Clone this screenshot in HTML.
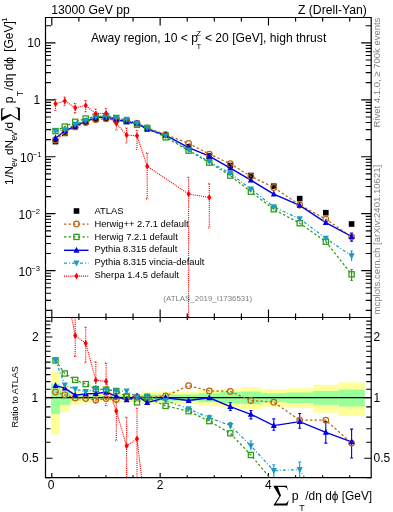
<!DOCTYPE html>
<html><head><meta charset="utf-8"><style>
html,body{margin:0;padding:0;background:#fff;}
svg{display:block;will-change:transform;}
</style></head><body>
<svg width="393" height="512" viewBox="0 0 393 512">
<rect x="51.1" y="371.75" width="8.80" height="62.71" fill="#ffff99"/>
<rect x="59.9" y="385.38" width="10.20" height="26.43" fill="#ffff99"/>
<rect x="70.1" y="391.11" width="10.80" height="13.49" fill="#ffff99"/>
<rect x="80.9" y="392.75" width="9.70" height="9.98" fill="#ffff99"/>
<rect x="90.6" y="393.33" width="10.40" height="8.75" fill="#ffff99"/>
<rect x="101.0" y="393.33" width="10.20" height="8.75" fill="#ffff99"/>
<rect x="111.2" y="393.33" width="10.20" height="8.75" fill="#ffff99"/>
<rect x="121.4" y="393.33" width="10.40" height="8.75" fill="#ffff99"/>
<rect x="131.8" y="393.42" width="10.20" height="8.57" fill="#ffff99"/>
<rect x="142.0" y="391.93" width="10.50" height="11.73" fill="#ffff99"/>
<rect x="152.5" y="391.44" width="26.20" height="12.79" fill="#ffff99"/>
<rect x="178.7" y="391.44" width="19.80" height="12.79" fill="#ffff99"/>
<rect x="198.5" y="390.07" width="21.60" height="15.77" fill="#ffff99"/>
<rect x="220.1" y="388.95" width="20.40" height="18.25" fill="#ffff99"/>
<rect x="240.5" y="387.23" width="20.80" height="22.14" fill="#ffff99"/>
<rect x="261.3" y="389.27" width="25.00" height="17.54" fill="#ffff99"/>
<rect x="286.3" y="388.24" width="26.80" height="19.84" fill="#ffff99"/>
<rect x="313.1" y="384.78" width="25.40" height="27.85" fill="#ffff99"/>
<rect x="338.5" y="382.39" width="26.20" height="33.63" fill="#ffff99"/>
<rect x="51.1" y="383.72" width="8.80" height="30.38" fill="#99ff99"/>
<rect x="59.9" y="390.87" width="10.20" height="14.02" fill="#99ff99"/>
<rect x="70.1" y="394.59" width="10.80" height="6.12" fill="#99ff99"/>
<rect x="80.9" y="395.44" width="9.70" height="4.37" fill="#99ff99"/>
<rect x="90.6" y="395.7" width="10.40" height="3.84" fill="#99ff99"/>
<rect x="101.0" y="395.7" width="10.20" height="3.84" fill="#99ff99"/>
<rect x="111.2" y="395.7" width="10.20" height="3.84" fill="#99ff99"/>
<rect x="121.4" y="395.7" width="10.40" height="3.84" fill="#99ff99"/>
<rect x="131.8" y="395.44" width="10.20" height="4.37" fill="#99ff99"/>
<rect x="142.0" y="394.68" width="10.50" height="5.94" fill="#99ff99"/>
<rect x="152.5" y="394.42" width="26.20" height="6.48" fill="#99ff99"/>
<rect x="178.7" y="394.42" width="19.80" height="6.48" fill="#99ff99"/>
<rect x="198.5" y="393.33" width="21.60" height="8.75" fill="#99ff99"/>
<rect x="220.1" y="392.01" width="20.40" height="11.56" fill="#99ff99"/>
<rect x="240.5" y="391.52" width="20.80" height="12.61" fill="#99ff99"/>
<rect x="261.3" y="393.17" width="25.00" height="9.10" fill="#99ff99"/>
<rect x="286.3" y="392.51" width="26.80" height="10.50" fill="#99ff99"/>
<rect x="313.1" y="390.95" width="25.40" height="13.84" fill="#99ff99"/>
<rect x="338.5" y="389.51" width="26.20" height="17.01" fill="#99ff99"/>
<path d="M45.5,397.60H371.2" stroke="#000" stroke-width="1.1"/>
<path d="M51.80,17.5v8M51.80,317.5v-8M51.80,317.5v4.7M51.80,477.7v-4.7M78.88,17.5v4M78.88,317.5v-4M78.88,317.5v2.5M78.88,477.7v-2.5M105.97,17.5v4M105.97,317.5v-4M105.97,317.5v2.5M105.97,477.7v-2.5M133.06,17.5v4M133.06,317.5v-4M133.06,317.5v2.5M133.06,477.7v-2.5M160.14,17.5v8M160.14,317.5v-8M160.14,317.5v4.7M160.14,477.7v-4.7M187.23,17.5v4M187.23,317.5v-4M187.23,317.5v2.5M187.23,477.7v-2.5M214.31,17.5v4M214.31,317.5v-4M214.31,317.5v2.5M214.31,477.7v-2.5M241.39,17.5v4M241.39,317.5v-4M241.39,317.5v2.5M241.39,477.7v-2.5M268.48,17.5v8M268.48,317.5v-8M268.48,317.5v4.7M268.48,477.7v-4.7M295.56,17.5v4M295.56,317.5v-4M295.56,317.5v2.5M295.56,477.7v-2.5M322.65,17.5v4M322.65,317.5v-4M322.65,317.5v2.5M322.65,477.7v-2.5M349.74,17.5v4M349.74,317.5v-4M349.74,317.5v2.5M349.74,477.7v-2.5M45.5,310.43h5.5M371.2,310.43h-5.5M45.5,300.40h5.5M371.2,300.40h-5.5M45.5,293.29h5.5M371.2,293.29h-5.5M45.5,287.77h5.5M371.2,287.77h-5.5M45.5,283.26h5.5M371.2,283.26h-5.5M45.5,279.45h5.5M371.2,279.45h-5.5M45.5,276.15h5.5M371.2,276.15h-5.5M45.5,273.24h5.5M371.2,273.24h-5.5M45.5,270.63h10M371.2,270.63h-10M45.5,253.49h5.5M371.2,253.49h-5.5M45.5,243.46h5.5M371.2,243.46h-5.5M45.5,236.35h5.5M371.2,236.35h-5.5M45.5,230.83h5.5M371.2,230.83h-5.5M45.5,226.32h5.5M371.2,226.32h-5.5M45.5,222.51h5.5M371.2,222.51h-5.5M45.5,219.21h5.5M371.2,219.21h-5.5M45.5,216.30h5.5M371.2,216.30h-5.5M45.5,213.69h10M371.2,213.69h-10M45.5,196.55h5.5M371.2,196.55h-5.5M45.5,186.52h5.5M371.2,186.52h-5.5M45.5,179.41h5.5M371.2,179.41h-5.5M45.5,173.89h5.5M371.2,173.89h-5.5M45.5,169.38h5.5M371.2,169.38h-5.5M45.5,165.57h5.5M371.2,165.57h-5.5M45.5,162.27h5.5M371.2,162.27h-5.5M45.5,159.36h5.5M371.2,159.36h-5.5M45.5,156.75h10M371.2,156.75h-10M45.5,139.61h5.5M371.2,139.61h-5.5M45.5,129.58h5.5M371.2,129.58h-5.5M45.5,122.47h5.5M371.2,122.47h-5.5M45.5,116.95h5.5M371.2,116.95h-5.5M45.5,112.44h5.5M371.2,112.44h-5.5M45.5,108.63h5.5M371.2,108.63h-5.5M45.5,105.33h5.5M371.2,105.33h-5.5M45.5,102.42h5.5M371.2,102.42h-5.5M45.5,99.81h10M371.2,99.81h-10M45.5,82.67h5.5M371.2,82.67h-5.5M45.5,72.64h5.5M371.2,72.64h-5.5M45.5,65.53h5.5M371.2,65.53h-5.5M45.5,60.01h5.5M371.2,60.01h-5.5M45.5,55.50h5.5M371.2,55.50h-5.5M45.5,51.69h5.5M371.2,51.69h-5.5M45.5,48.39h5.5M371.2,48.39h-5.5M45.5,45.48h5.5M371.2,45.48h-5.5M45.5,42.87h10M371.2,42.87h-10M45.5,25.73h5.5M371.2,25.73h-5.5M45.5,477.71h5M371.2,477.71h-5M45.5,458.20h7M371.2,458.20h-7M45.5,442.26h5M371.2,442.26h-5M45.5,428.78h5M371.2,428.78h-5M45.5,417.11h5M371.2,417.11h-5M45.5,406.81h5M371.2,406.81h-5M45.5,397.60h7M371.2,397.60h-7M45.5,389.27h5M371.2,389.27h-5M45.5,381.66h5M371.2,381.66h-5M45.5,374.66h5M371.2,374.66h-5M45.5,368.18h5M371.2,368.18h-5M45.5,362.15h5M371.2,362.15h-5M45.5,356.51h5M371.2,356.51h-5M45.5,351.21h5M371.2,351.21h-5M45.5,346.21h5M371.2,346.21h-5M45.5,341.49h5M371.2,341.49h-5M45.5,337.00h7M371.2,337.00h-7M45.5,332.74h5M371.2,332.74h-5M45.5,328.67h5M371.2,328.67h-5M45.5,324.78h5M371.2,324.78h-5M45.5,321.06h5M371.2,321.06h-5M45.5,317.49h5M371.2,317.49h-5" stroke="#000" stroke-width="1.15" fill="none"/>
<defs><clipPath id="cu"><rect x="45.5" y="17.5" width="325.7" height="300"/></clipPath><clipPath id="cr"><rect x="45.5" y="317.5" width="325.7" height="160.2"/></clipPath></defs>
<g clip-path="url(#cu)">
<rect x="52.70" y="138.80" width="5.6" height="5.6" fill="#000"/>
<rect x="62.00" y="130.60" width="5.6" height="5.6" fill="#000"/>
<rect x="72.40" y="124.00" width="5.6" height="5.6" fill="#000"/>
<rect x="82.90" y="119.50" width="5.6" height="5.6" fill="#000"/>
<rect x="93.00" y="116.20" width="5.6" height="5.6" fill="#000"/>
<rect x="103.30" y="115.70" width="5.6" height="5.6" fill="#000"/>
<rect x="113.50" y="117.00" width="5.6" height="5.6" fill="#000"/>
<rect x="123.80" y="118.50" width="5.6" height="5.6" fill="#000"/>
<rect x="134.20" y="120.70" width="5.6" height="5.6" fill="#000"/>
<rect x="144.40" y="125.20" width="5.6" height="5.6" fill="#000"/>
<rect x="162.80" y="132.20" width="5.6" height="5.6" fill="#000"/>
<rect x="185.80" y="144.00" width="5.6" height="5.6" fill="#000"/>
<rect x="206.50" y="153.20" width="5.6" height="5.6" fill="#000"/>
<rect x="227.50" y="162.70" width="5.6" height="5.6" fill="#000"/>
<rect x="248.10" y="172.70" width="5.6" height="5.6" fill="#000"/>
<rect x="271.00" y="183.40" width="5.6" height="5.6" fill="#000"/>
<rect x="296.90" y="195.80" width="5.6" height="5.6" fill="#000"/>
<rect x="323.00" y="209.90" width="5.6" height="5.6" fill="#000"/>
<rect x="348.80" y="221.20" width="5.6" height="5.6" fill="#000"/>
<polyline points="55.50,140.02 64.80,132.61 75.20,126.91 85.70,122.55 95.80,119.65 106.10,118.78 116.30,120.34 126.60,120.85 137.00,123.33 147.20,127.89 165.60,134.55 188.60,143.43 209.30,154.10 230.30,163.75 250.90,176.32 273.80,187.50 299.70,204.99 325.80,219.09 351.60,236.87" fill="none" stroke="#bb6418" stroke-width="1.25" stroke-dasharray="2.4,2.2"/>
<polyline points="55.50,131.08 64.80,126.58 75.20,121.79 85.70,118.48 95.80,116.60 106.10,116.27 116.30,117.93 126.60,121.05 137.00,124.86 147.20,127.97 165.60,137.35 188.60,150.65 209.30,162.65 230.30,175.60 250.90,191.74 273.80,209.30 299.70,223.20 325.80,241.70 351.60,274.30" fill="none" stroke="#2f9a14" stroke-width="1.25" stroke-dasharray="2.4,2.2"/>
<polyline points="55.50,138.21 64.80,130.74 75.20,126.12 85.70,121.25 95.80,117.84 106.10,117.00 116.30,119.38 126.60,121.95 137.00,123.05 147.20,129.41 165.60,135.03 188.60,147.62 209.30,156.06 230.30,168.05 250.90,180.22 273.80,194.12 299.70,205.39 325.80,222.54 351.60,236.50" fill="none" stroke="#0000e6" stroke-width="1.4"/>
<polyline points="55.50,131.08 64.80,129.84 75.20,124.42 85.70,120.63 95.80,116.60 106.10,116.27 116.30,117.93 126.60,119.43 137.00,123.39 147.20,127.58 165.60,135.82 188.60,150.00 209.30,161.71 230.30,173.42 250.90,189.13 273.80,206.88 299.70,218.97 325.80,238.30 351.60,255.80" fill="none" stroke="#1a9bc4" stroke-width="1.25" stroke-dasharray="3,2,1,2"/>
<polyline points="55.5,103.8 64.8,100.9 75.2,107.8 85.7,105.5 95.8,113.7 106.1,113.3 116.3,123.4 126.6,135.1 137.0,135.8 147.2,166.3 188.6,194.0 209.3,197.5" fill="none" stroke="#ff0000" stroke-width="1.1" stroke-dasharray="1.1,1"/>
<path d="M55.5,99.4V110.5M54.3,99.4h2.4M54.3,110.5h2.4M64.8,97.0V105.8M63.599999999999994,97.0h2.4M63.599999999999994,105.8h2.4M75.2,103.5V112.9M74.0,103.5h2.4M74.0,112.9h2.4M85.7,100.5V111.7M84.5,100.5h2.4M84.5,111.7h2.4M95.8,109V119M94.6,109h2.4M94.6,119h2.4M106.1,108.5V119M104.89999999999999,108.5h2.4M104.89999999999999,119h2.4M116.3,117V130M115.1,117h2.4M115.1,130h2.4M126.6,128V143M125.39999999999999,128h2.4M125.39999999999999,143h2.4M137.0,130.2V149.3M135.8,130.2h2.4M135.8,149.3h2.4M147.2,153.1V198.9M146.0,153.1h2.4M146.0,198.9h2.4M188.6,177.2V317.5M187.4,177.2h2.4M187.4,317.5h2.4M209.3,183.8V228.0M208.10000000000002,183.8h2.4M208.10000000000002,228.0h2.4" fill="none" stroke="#ff0000" stroke-width="1.1" stroke-dasharray="1.1,1"/>
<path d="M351.6,233.1V241.2M350.1,233.1h3M350.1,241.2h3" stroke="#0000e6" stroke-width="1.2"/>
<path d="M351.6,251V261M350.4,251h2.4" stroke="#1a9bc4" stroke-width="1.2"/>
<path d="M351.6,269.5V280.5M350.4,269.5h2.4M350.4,280.5h2.4" stroke="#2f9a14" stroke-width="1.2"/>
<circle cx="55.50" cy="140.02" r="2.8" fill="none" stroke="#bb6418" stroke-width="1.2"/>
<rect x="52.90" y="128.48" width="5.2" height="5.2" fill="none" stroke="#2f9a14" stroke-width="1.25"/>
<path d="M55.50,134.61L58.50,140.61H52.50Z" fill="#0000e6"/>
<path d="M55.50,134.68L58.60,128.48H52.40Z" fill="#1a9bc4"/>
<circle cx="64.80" cy="132.61" r="2.8" fill="none" stroke="#bb6418" stroke-width="1.2"/>
<rect x="62.20" y="123.98" width="5.2" height="5.2" fill="none" stroke="#2f9a14" stroke-width="1.25"/>
<path d="M64.80,127.14L67.80,133.14H61.80Z" fill="#0000e6"/>
<path d="M64.80,133.44L67.90,127.24H61.70Z" fill="#1a9bc4"/>
<circle cx="75.20" cy="126.91" r="2.8" fill="none" stroke="#bb6418" stroke-width="1.2"/>
<rect x="72.60" y="119.19" width="5.2" height="5.2" fill="none" stroke="#2f9a14" stroke-width="1.25"/>
<path d="M75.20,122.52L78.20,128.52H72.20Z" fill="#0000e6"/>
<path d="M75.20,128.02L78.30,121.82H72.10Z" fill="#1a9bc4"/>
<circle cx="85.70" cy="122.55" r="2.8" fill="none" stroke="#bb6418" stroke-width="1.2"/>
<rect x="83.10" y="115.88" width="5.2" height="5.2" fill="none" stroke="#2f9a14" stroke-width="1.25"/>
<path d="M85.70,117.65L88.70,123.65H82.70Z" fill="#0000e6"/>
<path d="M85.70,124.23L88.80,118.03H82.60Z" fill="#1a9bc4"/>
<circle cx="95.80" cy="119.65" r="2.8" fill="none" stroke="#bb6418" stroke-width="1.2"/>
<rect x="93.20" y="114.00" width="5.2" height="5.2" fill="none" stroke="#2f9a14" stroke-width="1.25"/>
<path d="M95.80,114.24L98.80,120.24H92.80Z" fill="#0000e6"/>
<path d="M95.80,120.20L98.90,114.00H92.70Z" fill="#1a9bc4"/>
<circle cx="106.10" cy="118.78" r="2.8" fill="none" stroke="#bb6418" stroke-width="1.2"/>
<rect x="103.50" y="113.67" width="5.2" height="5.2" fill="none" stroke="#2f9a14" stroke-width="1.25"/>
<path d="M106.10,113.40L109.10,119.40H103.10Z" fill="#0000e6"/>
<path d="M106.10,119.87L109.20,113.67H103.00Z" fill="#1a9bc4"/>
<circle cx="116.30" cy="120.34" r="2.8" fill="none" stroke="#bb6418" stroke-width="1.2"/>
<rect x="113.70" y="115.33" width="5.2" height="5.2" fill="none" stroke="#2f9a14" stroke-width="1.25"/>
<path d="M116.30,115.78L119.30,121.78H113.30Z" fill="#0000e6"/>
<path d="M116.30,121.53L119.40,115.33H113.20Z" fill="#1a9bc4"/>
<circle cx="126.60" cy="120.85" r="2.8" fill="none" stroke="#bb6418" stroke-width="1.2"/>
<rect x="124.00" y="118.45" width="5.2" height="5.2" fill="none" stroke="#2f9a14" stroke-width="1.25"/>
<path d="M126.60,118.35L129.60,124.35H123.60Z" fill="#0000e6"/>
<path d="M126.60,123.03L129.70,116.83H123.50Z" fill="#1a9bc4"/>
<circle cx="137.00" cy="123.33" r="2.8" fill="none" stroke="#bb6418" stroke-width="1.2"/>
<rect x="134.40" y="122.26" width="5.2" height="5.2" fill="none" stroke="#2f9a14" stroke-width="1.25"/>
<path d="M137.00,119.45L140.00,125.45H134.00Z" fill="#0000e6"/>
<path d="M137.00,126.99L140.10,120.79H133.90Z" fill="#1a9bc4"/>
<circle cx="147.20" cy="127.89" r="2.8" fill="none" stroke="#bb6418" stroke-width="1.2"/>
<rect x="144.60" y="125.37" width="5.2" height="5.2" fill="none" stroke="#2f9a14" stroke-width="1.25"/>
<path d="M147.20,125.81L150.20,131.81H144.20Z" fill="#0000e6"/>
<path d="M147.20,131.18L150.30,124.98H144.10Z" fill="#1a9bc4"/>
<circle cx="165.60" cy="134.55" r="2.8" fill="none" stroke="#bb6418" stroke-width="1.2"/>
<rect x="163.00" y="134.75" width="5.2" height="5.2" fill="none" stroke="#2f9a14" stroke-width="1.25"/>
<path d="M165.60,131.43L168.60,137.43H162.60Z" fill="#0000e6"/>
<path d="M165.60,139.42L168.70,133.22H162.50Z" fill="#1a9bc4"/>
<circle cx="188.60" cy="143.43" r="2.8" fill="none" stroke="#bb6418" stroke-width="1.2"/>
<rect x="186.00" y="148.05" width="5.2" height="5.2" fill="none" stroke="#2f9a14" stroke-width="1.25"/>
<path d="M188.60,144.02L191.60,150.02H185.60Z" fill="#0000e6"/>
<path d="M188.60,153.60L191.70,147.40H185.50Z" fill="#1a9bc4"/>
<circle cx="209.30" cy="154.10" r="2.8" fill="none" stroke="#bb6418" stroke-width="1.2"/>
<rect x="206.70" y="160.05" width="5.2" height="5.2" fill="none" stroke="#2f9a14" stroke-width="1.25"/>
<path d="M209.30,152.46L212.30,158.46H206.30Z" fill="#0000e6"/>
<path d="M209.30,165.31L212.40,159.11H206.20Z" fill="#1a9bc4"/>
<circle cx="230.30" cy="163.75" r="2.8" fill="none" stroke="#bb6418" stroke-width="1.2"/>
<rect x="227.70" y="173.00" width="5.2" height="5.2" fill="none" stroke="#2f9a14" stroke-width="1.25"/>
<path d="M230.30,164.45L233.30,170.45H227.30Z" fill="#0000e6"/>
<path d="M230.30,177.02L233.40,170.82H227.20Z" fill="#1a9bc4"/>
<circle cx="250.90" cy="176.32" r="2.8" fill="none" stroke="#bb6418" stroke-width="1.2"/>
<rect x="248.30" y="189.14" width="5.2" height="5.2" fill="none" stroke="#2f9a14" stroke-width="1.25"/>
<path d="M250.90,176.62L253.90,182.62H247.90Z" fill="#0000e6"/>
<path d="M250.90,192.73L254.00,186.53H247.80Z" fill="#1a9bc4"/>
<circle cx="273.80" cy="187.50" r="2.8" fill="none" stroke="#bb6418" stroke-width="1.2"/>
<rect x="271.20" y="206.70" width="5.2" height="5.2" fill="none" stroke="#2f9a14" stroke-width="1.25"/>
<path d="M273.80,190.52L276.80,196.52H270.80Z" fill="#0000e6"/>
<path d="M273.80,210.48L276.90,204.28H270.70Z" fill="#1a9bc4"/>
<circle cx="299.70" cy="204.99" r="2.8" fill="none" stroke="#bb6418" stroke-width="1.2"/>
<rect x="297.10" y="220.60" width="5.2" height="5.2" fill="none" stroke="#2f9a14" stroke-width="1.25"/>
<path d="M299.70,201.79L302.70,207.79H296.70Z" fill="#0000e6"/>
<path d="M299.70,222.57L302.80,216.37H296.60Z" fill="#1a9bc4"/>
<circle cx="325.80" cy="219.09" r="2.8" fill="none" stroke="#bb6418" stroke-width="1.2"/>
<rect x="323.20" y="239.10" width="5.2" height="5.2" fill="none" stroke="#2f9a14" stroke-width="1.25"/>
<path d="M325.80,218.94L328.80,224.94H322.80Z" fill="#0000e6"/>
<path d="M325.80,241.90L328.90,235.70H322.70Z" fill="#1a9bc4"/>
<circle cx="351.60" cy="236.87" r="2.8" fill="none" stroke="#bb6418" stroke-width="1.2"/>
<rect x="349.00" y="271.70" width="5.2" height="5.2" fill="none" stroke="#2f9a14" stroke-width="1.25"/>
<path d="M351.60,232.90L354.60,238.90H348.60Z" fill="#0000e6"/>
<path d="M351.60,259.40L354.70,253.20H348.50Z" fill="#1a9bc4"/>
<path d="M55.50,100.50L57.60,103.80L55.50,107.10L53.40,103.80Z" fill="#ff0000"/>
<path d="M64.80,97.60L66.90,100.90L64.80,104.20L62.70,100.90Z" fill="#ff0000"/>
<path d="M75.20,104.50L77.30,107.80L75.20,111.10L73.10,107.80Z" fill="#ff0000"/>
<path d="M85.70,102.20L87.80,105.50L85.70,108.80L83.60,105.50Z" fill="#ff0000"/>
<path d="M95.80,110.40L97.90,113.70L95.80,117.00L93.70,113.70Z" fill="#ff0000"/>
<path d="M106.10,110.00L108.20,113.30L106.10,116.60L104.00,113.30Z" fill="#ff0000"/>
<path d="M116.30,120.10L118.40,123.40L116.30,126.70L114.20,123.40Z" fill="#ff0000"/>
<path d="M126.60,131.80L128.70,135.10L126.60,138.40L124.50,135.10Z" fill="#ff0000"/>
<path d="M137.00,132.50L139.10,135.80L137.00,139.10L134.90,135.80Z" fill="#ff0000"/>
<path d="M147.20,163.00L149.30,166.30L147.20,169.60L145.10,166.30Z" fill="#ff0000"/>
<path d="M188.60,190.70L190.70,194.00L188.60,197.30L186.50,194.00Z" fill="#ff0000"/>
<path d="M209.30,194.20L211.40,197.50L209.30,200.80L207.20,197.50Z" fill="#ff0000"/>
</g>
<g clip-path="url(#cr)">
<polyline points="55.50,392.00 64.80,394.80 75.20,398.00 85.70,398.50 95.80,399.90 106.10,398.60 116.30,399.50 126.60,396.00 137.00,397.00 147.20,397.20 165.60,396.00 188.60,385.70 209.30,390.90 230.30,391.40 250.90,400.50 273.80,402.20 299.70,420.20 325.80,420.20 351.60,443.10" fill="none" stroke="#bb6418" stroke-width="1.25" stroke-dasharray="2.4,2.2"/>
<polyline points="55.50,360.40 64.80,373.50 75.20,379.90 85.70,384.10 95.80,389.10 106.10,389.70 116.30,391.00 126.60,396.70 137.00,402.40 147.20,397.50 165.60,405.90 188.60,411.20 209.30,421.10 230.30,433.30 250.90,455.00 272.30,480.70" fill="none" stroke="#2f9a14" stroke-width="1.25" stroke-dasharray="2.4,2.2"/>
<polyline points="55.50,385.60 64.80,388.20 75.20,395.20 85.70,393.90 95.80,393.50 106.10,392.30 116.30,396.10 126.60,399.90 137.00,396.00 147.20,402.60 165.60,397.70 188.60,400.50 209.30,397.80 230.30,406.60 250.90,414.30 273.80,425.60 299.70,421.60 325.80,432.40 351.60,441.80" fill="none" stroke="#0000e6" stroke-width="1.4"/>
<polyline points="55.50,360.40 64.80,385.00 75.20,389.20 85.70,391.70 95.80,389.10 106.10,389.70 116.30,391.00 126.60,391.00 137.00,397.20 147.20,396.10 165.60,400.50 188.60,408.90 209.30,417.80 230.30,425.60 250.90,445.80 273.80,470.70 299.70,469.60 312.00,490.00" fill="none" stroke="#1a9bc4" stroke-width="1.25" stroke-dasharray="3,2,1,2"/>
<polyline points="64.80,283.20 75.20,335.60 85.70,343.20 95.80,380.30 106.10,381.40 116.30,411.10 126.60,445.90 137.00,438.80 141.70,478.00" fill="none" stroke="#ff0000" stroke-width="1.1" stroke-dasharray="1.1,1"/>
<path d="M75.2,317.5V356.4M74.0,317.5h2.4M74.0,356.4h2.4M85.7,327.2V362.8M84.5,327.2h2.4M84.5,362.8h2.4M95.8,361.9V403.3M94.6,361.9h2.4M94.6,403.3h2.4M106.1,363.1V405.6M104.89999999999999,363.1h2.4M104.89999999999999,405.6h2.4M116.3,399.1V440.8M115.1,399.1h2.4M115.1,440.8h2.4M126.6,417.4V477.7M125.39999999999999,417.4h2.4M125.39999999999999,477.7h2.4M137.0,408.2V477.7M135.8,408.2h2.4M135.8,477.7h2.4" fill="none" stroke="#ff0000" stroke-width="1.1" stroke-dasharray="1.1,1"/>
<path d="M230.3,402.8V410.5M228.8,402.8h3M228.8,410.5h3M250.9,410.5V418.9M249.4,410.5h3M249.4,418.9h3M273.8,418.9V430.2M272.3,418.9h3M272.3,430.2h3M299.7,413.5V428.3M298.2,413.5h3M298.2,428.3h3M325.8,421.6V443.1M324.3,421.6h3M324.3,443.1h3M351.6,429.1V458.0M350.1,429.1h3M350.1,458.0h3" stroke="#0000e6" stroke-width="1.1" fill="none"/>
<path d="M209.3,415.2V420.5M207.8,415.2h3M230.3,422.5V428.8M228.8,422.5h3M250.9,441V450.5M249.4,441h3M273.8,464.7V476.9M272.3,464.7h3M299.7,462V477M298.2,462h3" stroke="#1a9bc4" stroke-width="1.1" fill="none"/>
<circle cx="55.50" cy="392.00" r="2.8" fill="none" stroke="#bb6418" stroke-width="1.2"/>
<rect x="52.90" y="357.80" width="5.2" height="5.2" fill="none" stroke="#2f9a14" stroke-width="1.25"/>
<path d="M55.50,382.00L58.50,388.00H52.50Z" fill="#0000e6"/>
<path d="M55.50,364.00L58.60,357.80H52.40Z" fill="#1a9bc4"/>
<circle cx="64.80" cy="394.80" r="2.8" fill="none" stroke="#bb6418" stroke-width="1.2"/>
<rect x="62.20" y="370.90" width="5.2" height="5.2" fill="none" stroke="#2f9a14" stroke-width="1.25"/>
<path d="M64.80,384.60L67.80,390.60H61.80Z" fill="#0000e6"/>
<path d="M64.80,388.60L67.90,382.40H61.70Z" fill="#1a9bc4"/>
<circle cx="75.20" cy="398.00" r="2.8" fill="none" stroke="#bb6418" stroke-width="1.2"/>
<rect x="72.60" y="377.30" width="5.2" height="5.2" fill="none" stroke="#2f9a14" stroke-width="1.25"/>
<path d="M75.20,391.60L78.20,397.60H72.20Z" fill="#0000e6"/>
<path d="M75.20,392.80L78.30,386.60H72.10Z" fill="#1a9bc4"/>
<circle cx="85.70" cy="398.50" r="2.8" fill="none" stroke="#bb6418" stroke-width="1.2"/>
<rect x="83.10" y="381.50" width="5.2" height="5.2" fill="none" stroke="#2f9a14" stroke-width="1.25"/>
<path d="M85.70,390.30L88.70,396.30H82.70Z" fill="#0000e6"/>
<path d="M85.70,395.30L88.80,389.10H82.60Z" fill="#1a9bc4"/>
<circle cx="95.80" cy="399.90" r="2.8" fill="none" stroke="#bb6418" stroke-width="1.2"/>
<rect x="93.20" y="386.50" width="5.2" height="5.2" fill="none" stroke="#2f9a14" stroke-width="1.25"/>
<path d="M95.80,389.90L98.80,395.90H92.80Z" fill="#0000e6"/>
<path d="M95.80,392.70L98.90,386.50H92.70Z" fill="#1a9bc4"/>
<circle cx="106.10" cy="398.60" r="2.8" fill="none" stroke="#bb6418" stroke-width="1.2"/>
<rect x="103.50" y="387.10" width="5.2" height="5.2" fill="none" stroke="#2f9a14" stroke-width="1.25"/>
<path d="M106.10,388.70L109.10,394.70H103.10Z" fill="#0000e6"/>
<path d="M106.10,393.30L109.20,387.10H103.00Z" fill="#1a9bc4"/>
<circle cx="116.30" cy="399.50" r="2.8" fill="none" stroke="#bb6418" stroke-width="1.2"/>
<rect x="113.70" y="388.40" width="5.2" height="5.2" fill="none" stroke="#2f9a14" stroke-width="1.25"/>
<path d="M116.30,392.50L119.30,398.50H113.30Z" fill="#0000e6"/>
<path d="M116.30,394.60L119.40,388.40H113.20Z" fill="#1a9bc4"/>
<circle cx="126.60" cy="396.00" r="2.8" fill="none" stroke="#bb6418" stroke-width="1.2"/>
<rect x="124.00" y="394.10" width="5.2" height="5.2" fill="none" stroke="#2f9a14" stroke-width="1.25"/>
<path d="M126.60,396.30L129.60,402.30H123.60Z" fill="#0000e6"/>
<path d="M126.60,394.60L129.70,388.40H123.50Z" fill="#1a9bc4"/>
<circle cx="137.00" cy="397.00" r="2.8" fill="none" stroke="#bb6418" stroke-width="1.2"/>
<rect x="134.40" y="399.80" width="5.2" height="5.2" fill="none" stroke="#2f9a14" stroke-width="1.25"/>
<path d="M137.00,392.40L140.00,398.40H134.00Z" fill="#0000e6"/>
<path d="M137.00,400.80L140.10,394.60H133.90Z" fill="#1a9bc4"/>
<circle cx="147.20" cy="397.20" r="2.8" fill="none" stroke="#bb6418" stroke-width="1.2"/>
<rect x="144.60" y="394.90" width="5.2" height="5.2" fill="none" stroke="#2f9a14" stroke-width="1.25"/>
<path d="M147.20,399.00L150.20,405.00H144.20Z" fill="#0000e6"/>
<path d="M147.20,399.70L150.30,393.50H144.10Z" fill="#1a9bc4"/>
<circle cx="165.60" cy="396.00" r="2.8" fill="none" stroke="#bb6418" stroke-width="1.2"/>
<rect x="163.00" y="403.30" width="5.2" height="5.2" fill="none" stroke="#2f9a14" stroke-width="1.25"/>
<path d="M165.60,394.10L168.60,400.10H162.60Z" fill="#0000e6"/>
<path d="M165.60,404.10L168.70,397.90H162.50Z" fill="#1a9bc4"/>
<circle cx="188.60" cy="385.70" r="2.8" fill="none" stroke="#bb6418" stroke-width="1.2"/>
<rect x="186.00" y="408.60" width="5.2" height="5.2" fill="none" stroke="#2f9a14" stroke-width="1.25"/>
<path d="M188.60,396.90L191.60,402.90H185.60Z" fill="#0000e6"/>
<path d="M188.60,412.50L191.70,406.30H185.50Z" fill="#1a9bc4"/>
<circle cx="209.30" cy="390.90" r="2.8" fill="none" stroke="#bb6418" stroke-width="1.2"/>
<rect x="206.70" y="418.50" width="5.2" height="5.2" fill="none" stroke="#2f9a14" stroke-width="1.25"/>
<path d="M209.30,394.20L212.30,400.20H206.30Z" fill="#0000e6"/>
<path d="M209.30,421.40L212.40,415.20H206.20Z" fill="#1a9bc4"/>
<circle cx="230.30" cy="391.40" r="2.8" fill="none" stroke="#bb6418" stroke-width="1.2"/>
<rect x="227.70" y="430.70" width="5.2" height="5.2" fill="none" stroke="#2f9a14" stroke-width="1.25"/>
<path d="M230.30,403.00L233.30,409.00H227.30Z" fill="#0000e6"/>
<path d="M230.30,429.20L233.40,423.00H227.20Z" fill="#1a9bc4"/>
<circle cx="250.90" cy="400.50" r="2.8" fill="none" stroke="#bb6418" stroke-width="1.2"/>
<rect x="248.30" y="452.40" width="5.2" height="5.2" fill="none" stroke="#2f9a14" stroke-width="1.25"/>
<path d="M250.90,410.70L253.90,416.70H247.90Z" fill="#0000e6"/>
<path d="M250.90,449.40L254.00,443.20H247.80Z" fill="#1a9bc4"/>
<circle cx="273.80" cy="402.20" r="2.8" fill="none" stroke="#bb6418" stroke-width="1.2"/>
<path d="M273.80,422.00L276.80,428.00H270.80Z" fill="#0000e6"/>
<path d="M273.80,474.30L276.90,468.10H270.70Z" fill="#1a9bc4"/>
<circle cx="299.70" cy="420.20" r="2.8" fill="none" stroke="#bb6418" stroke-width="1.2"/>
<path d="M299.70,418.00L302.70,424.00H296.70Z" fill="#0000e6"/>
<path d="M299.70,473.20L302.80,467.00H296.60Z" fill="#1a9bc4"/>
<circle cx="325.80" cy="420.20" r="2.8" fill="none" stroke="#bb6418" stroke-width="1.2"/>
<path d="M325.80,428.80L328.80,434.80H322.80Z" fill="#0000e6"/>
<circle cx="351.60" cy="443.10" r="2.8" fill="none" stroke="#bb6418" stroke-width="1.2"/>
<path d="M351.60,438.20L354.60,444.20H348.60Z" fill="#0000e6"/>
<path d="M75.20,332.30L77.30,335.60L75.20,338.90L73.10,335.60Z" fill="#ff0000"/>
<path d="M85.70,339.90L87.80,343.20L85.70,346.50L83.60,343.20Z" fill="#ff0000"/>
<path d="M95.80,377.00L97.90,380.30L95.80,383.60L93.70,380.30Z" fill="#ff0000"/>
<path d="M106.10,378.10L108.20,381.40L106.10,384.70L104.00,381.40Z" fill="#ff0000"/>
<path d="M116.30,407.80L118.40,411.10L116.30,414.40L114.20,411.10Z" fill="#ff0000"/>
<path d="M126.60,442.60L128.70,445.90L126.60,449.20L124.50,445.90Z" fill="#ff0000"/>
<path d="M137.00,435.50L139.10,438.80L137.00,442.10L134.90,438.80Z" fill="#ff0000"/>
</g>
<rect x="73.70" y="208.20" width="5.6" height="5.6" fill="#000"/>
<path d="M64,224.0H88.5" stroke="#bb6418" stroke-width="1.25" stroke-dasharray="2.4,2.2"/>
<circle cx="76.50" cy="224.00" r="2.8" fill="none" stroke="#bb6418" stroke-width="1.2"/>
<path d="M64,236.9H88.5" stroke="#2f9a14" stroke-width="1.25" stroke-dasharray="2.4,2.2"/>
<rect x="73.90" y="234.30" width="5.2" height="5.2" fill="none" stroke="#2f9a14" stroke-width="1.25"/>
<path d="M64,250.3H88.5" stroke="#0000e6" stroke-width="1.4"/>
<path d="M76.50,246.70L79.50,252.70H73.50Z" fill="#0000e6"/>
<path d="M64,263.0H88.5" stroke="#1a9bc4" stroke-width="1.25" stroke-dasharray="3,2,1,2"/>
<path d="M76.50,266.60L79.60,260.40H73.40Z" fill="#1a9bc4"/>
<path d="M64,276.1H88.5" stroke="#ff0000" stroke-width="1.1" stroke-dasharray="1.1,1"/>
<path d="M76.50,272.80L78.60,276.10L76.50,279.40L74.40,276.10Z" fill="#ff0000"/>
<path d="M45.5,17.5H371.2V477.7H45.5Z M45.5,317.5H371.2" stroke="#000" stroke-width="1.2" fill="none"/>
<g font-family="Liberation Sans, sans-serif" fill="#000">
<text x="51.2" y="14.2" font-size="12.2">13000 GeV pp</text>
<text x="366.8" y="14.2" font-size="12.2" text-anchor="end">Z (Drell-Yan)</text>
<text x="91" y="42" font-size="12.1">Away region, 10 &lt; p<tspan font-size="7.8" dx="-1.8" dy="-6.4">Z</tspan><tspan font-size="7.8" dx="-4.5" dy="13.4">T</tspan><tspan dy="-7" dx="0.3"> &lt; 20 [GeV], high thrust</tspan></text>
<text x="40.6" y="47.1" font-size="12" text-anchor="end">10</text>
<text x="40.2" y="103.7" font-size="12" text-anchor="end">1</text>
<text x="41.4" y="161.8" font-size="12" text-anchor="end">10<tspan font-size="7.6" dx="-0.6" dy="-5.2">−1</tspan></text>
<text x="40.0" y="218.8" font-size="12" text-anchor="end">10<tspan font-size="7.6" dx="-0.6" dy="-5.2">−2</tspan></text>
<text x="40.0" y="275.9" font-size="12" text-anchor="end">10<tspan font-size="7.6" dx="-0.6" dy="-5.2">−3</tspan></text>
<text x="38.8" y="340.8" font-size="12" text-anchor="end">2</text>
<text x="38.2" y="401.8" font-size="12" text-anchor="end">1</text>
<text x="38.8" y="461.8" font-size="12" text-anchor="end">0.5</text>
<text x="373.6" y="340.7" font-size="12">2</text>
<text x="373.6" y="401.8" font-size="12">1</text>
<text x="373.6" y="462" font-size="12">0.5</text>
<text x="51.1" y="488.8" font-size="12" text-anchor="middle">0</text>
<text x="160.1" y="488.8" font-size="12" text-anchor="middle">2</text>
<text x="268.4" y="488.8" font-size="12" text-anchor="middle">4</text>
<path transform="translate(1.1,120.8) rotate(-90) scale(0.92,0.96)" d="M0,0 H13.2 L14.2,4.2 H13.8 C13.4,2.2 12.5,1.3 10,1.3 H4.2 L7.4,9.6 L2.3,17.7 H10.5 C12.8,17.7 14,16.7 14.6,14.6 H15 L13.8,19.6 H0 V19.2 L5.7,10.4 L0,0.6 Z" fill="#000"/>
<text transform="translate(12.9,184.9) rotate(-90)" font-size="11.7">1<tspan dx="0.6">/N</tspan><tspan font-size="8.2" dx="-0.7" dy="3.8">ev</tspan><tspan dy="-3.8"> dN</tspan><tspan font-size="8.2" dx="-0.5" dy="3.8">ev</tspan><tspan dy="-3.8">/d</tspan></text>
<text transform="translate(12.9,103.2) rotate(-90)" font-size="12">p<tspan font-size="8.5" dx="0.3" dy="10.2">T</tspan><tspan dx="-2.7" dy="-10.2"> /dη dϕ</tspan><tspan dx="1.8"> [GeV]</tspan><tspan font-size="8" dx="-0.5" dy="-6.3">1</tspan></text>
<text transform="translate(18.2,427.6) rotate(-90)" font-size="9.1">Ratio to ATLAS</text>
<path transform="translate(273.6,485.8)" d="M0,0 H13.2 L14.2,4.2 H13.8 C13.4,2.2 12.5,1.3 10,1.3 H4.2 L7.4,9.6 L2.3,17.7 H10.5 C12.8,17.7 14,16.7 14.6,14.6 H15 L13.8,19.6 H0 V19.2 L5.7,10.4 L0,0.6 Z" fill="#000"/>
<text x="291.8" y="500" font-size="12.3">p<tspan font-size="8.8" dx="0.6" dy="10.5">T</tspan><tspan font-size="11.9" dx="-2.6" dy="-10.5"> /dη dϕ [GeV]</tspan></text>
<text transform="translate(380.4,127.4) rotate(-90)" font-size="9.5" fill="#808080">Rivet 4.1.0, ≥ 700k events</text>
<text transform="translate(380.4,314.5) rotate(-90)" font-size="9.55" fill="#808080">mcplots.cern.ch [arXiv:2401.10621]</text>
<text x="207.8" y="301" font-size="7.9" fill="#808080" text-anchor="middle">(ATLAS_2019_I1736531)</text>
<text x="94.4" y="213.60" font-size="9.4">ATLAS</text>
<text x="94.4" y="226.55" font-size="9.4">Herwig++ 2.7.1 default</text>
<text x="94.4" y="239.50" font-size="9.4">Herwig 7.2.1 default</text>
<text x="94.4" y="252.45" font-size="9.4">Pythia 8.315 default</text>
<text x="94.4" y="265.40" font-size="9.4">Pythia 8.315 vincia-default</text>
<text x="94.4" y="278.35" font-size="9.4">Sherpa 1.4.5 default</text>
</g>
</svg>
</body></html>
